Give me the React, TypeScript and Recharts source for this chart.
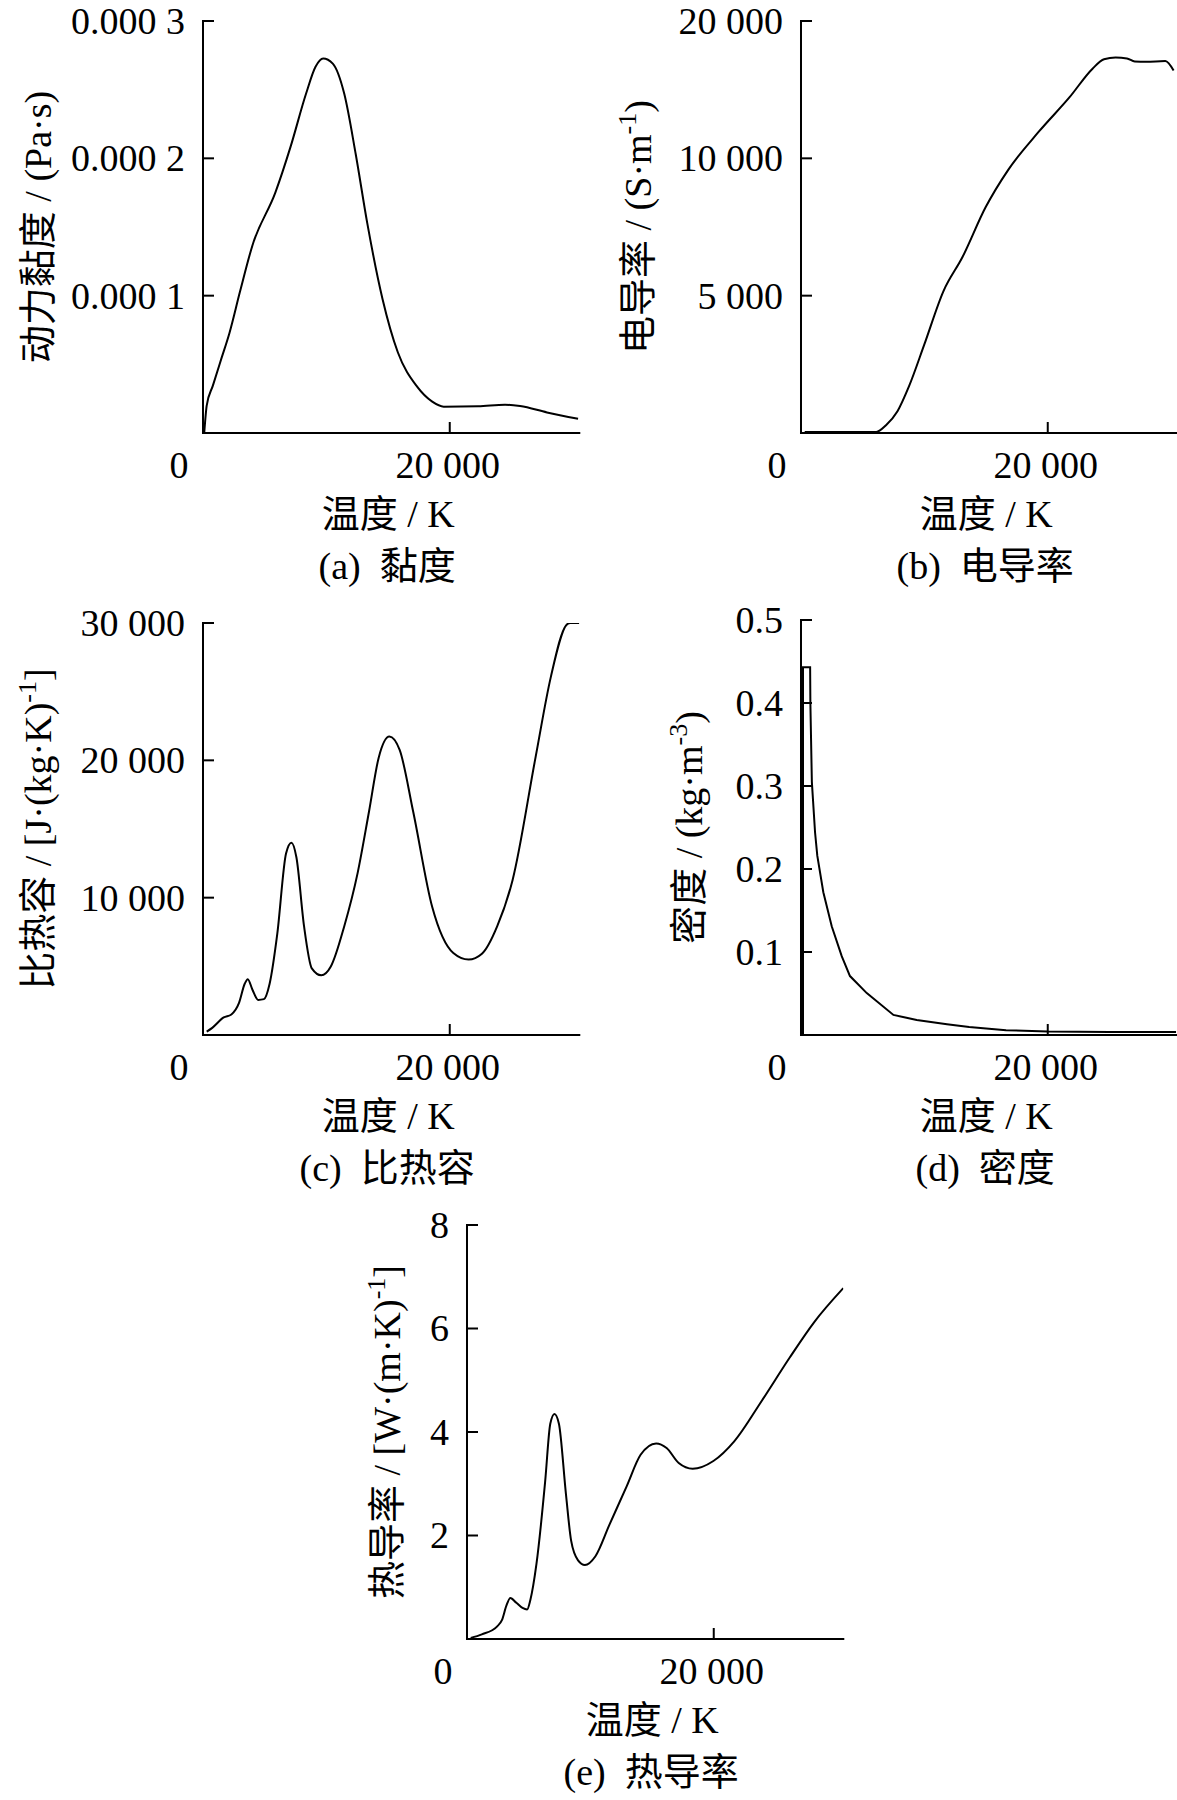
import React from 'react';
import { LineChart, Line, XAxis, YAxis } from 'recharts';

const FONT = "'Liberation Serif', 'Times New Roman', 'Noto Sans CJK SC', serif";
const FS = 38;

// shared temperature axis
const xTicks = [0, 20000];
const xTickLabels = ['0', '20 000'];
const xMax = 30500;
const xTitle = '温度 / K';

// (a) viscosity
const tempA = [100, 300, 800, 1500, 2140, 3000, 4000, 5870, 7100, 8350, 9120, 9740, 10520, 11450, 12380, 13310, 14550, 15790, 17340, 18580, 19510, 22300, 24480, 25700, 27880, 30400];
const viscA = [0, 2.0e-5, 3.45e-5, 5.45e-5, 7.27e-5, 1.03e-4, 1.364e-4, 1.752e-4, 2.085e-4, 2.47e-4, 2.667e-4, 2.727e-4, 2.69e-4, 2.47e-4, 2.03e-4, 1.53e-4, 9.76e-5, 5.88e-5, 3.39e-5, 2.28e-5, 1.92e-5, 1.95e-5, 2.06e-5, 1.96e-5, 1.5e-5, 1.04e-5];
const yTicksA = [0.0001, 0.0002, 0.0003];
const yLabelsA = ['0.000 1', '0.000 2', '0.000 3'];

// (b) electrical conductivity
const tempB = [300, 6100, 6890, 7820, 8750, 9990, 11540, 13090, 14950, 16810, 19290, 21770, 23630, 24560, 25500, 26420, 27050, 27980, 29530, 30200];
const condB = [40, 40, 283, 793, 1696, 3217, 5159, 6405, 8207, 9591, 10978, 12225, 13264, 13609, 13667, 13638, 13526, 13514, 13543, 13196];
const yTicksB = [5000, 10000, 15000];
const yLabelsB = ['5 000', '10 000', '20 000'];

// (c) specific heat
const tempC = [300, 750, 1680, 2300, 2920, 3380, 3630, 4000, 4470, 4940, 5400, 6020, 6730, 7170, 7570, 8190, 8820, 9590, 10360, 11450, 12540, 13460, 14240, 15110, 15940, 17030, 18580, 20290, 21530, 22610, 23850, 25090, 26950, 28190, 29430, 29750, 30500];
const cpC = [250, 520, 1277, 1496, 2336, 3730, 4066, 3314, 2555, 2613, 3730, 7358, 13219, 14000, 12940, 7920, 4847, 4343, 4985, 7920, 11825, 16292, 20197, 21737, 20759, 16292, 9314, 5963, 5489, 5912, 7920, 11270, 20197, 26058, 29832, 30000, 30000];
const yTicksC = [10000, 20000, 30000];
const yLabelsC = ['10 000', '20 000', '30 000'];

// (d) density
const tempD = [160, 160, 740, 760, 880, 1140, 1320, 1810, 2490, 3300, 3970, 5330, 7490, 9380, 11830, 13630, 16620, 20000, 25000, 30400];
const rhoD = [0, 0.443, 0.443, 0.4, 0.305, 0.244, 0.216, 0.172, 0.131, 0.095, 0.071, 0.0505, 0.0242, 0.0182, 0.013, 0.0095, 0.0058, 0.0042, 0.0036, 0.0035];
const yTicksD = [0.1, 0.2, 0.3, 0.4, 0.5];
const yLabelsD = ['0.1', '0.2', '0.3', '0.4', '0.5'];

// (e) thermal conductivity
const tempE = [300, 1200, 2430, 2840, 3200, 3510, 4000, 4500, 4870, 5130, 5630, 6330, 6750, 7090, 7450, 8020, 8440, 9000, 9560, 10410, 11530, 12940, 14070, 15330, 16180, 17160, 18290, 19970, 21660, 23910, 26160, 28130, 30500];
const kE = [0.02, 0.09, 0.24, 0.37, 0.65, 0.79, 0.7, 0.6, 0.57, 0.75, 1.45, 3.03, 4.16, 4.35, 4.16, 2.8, 1.9, 1.52, 1.43, 1.6, 2.2, 2.95, 3.56, 3.78, 3.69, 3.4, 3.29, 3.44, 3.82, 4.61, 5.44, 6.12, 6.78];
const yTicksE = [2, 4, 6, 8];
const yLabelsE = ['2', '4', '6', '8'];

const txt = { fontFamily: FONT, fontSize: FS, fill: '#000' } as const;

const XTick = (p: any) => {
  const { x, y, payload } = p;
  const i = xTicks.indexOf(payload.value);
  if (payload.value === 0) {
    return (
      <text x={x - 24} y={y + 45} textAnchor="middle" {...txt}>{xTickLabels[i]}</text>
    );
  }
  return (
    <g>
      <line x1={x} y1={y} x2={x} y2={y - 11} stroke="#000" strokeWidth={2} />
      <text x={x - 2} y={y + 45} textAnchor="middle" {...txt}>{xTickLabels[i]}</text>
    </g>
  );
};

const YTick = (p: any) => {
  const { x, y, payload, vals, labels } = p;
  const i = vals.findIndex((v: number) => Math.abs(v - payload.value) < 1e-9);
  return (
    <g>
      <line x1={x} y1={y} x2={x + 11} y2={y} stroke="#000" strokeWidth={2} />
      <text x={x - 18} y={y + 13} textAnchor="end" {...txt}>{i >= 0 ? labels[i] : ''}</text>
    </g>
  );
};

type PanelProps = {
  L: number; T: number; R: number; B: number;
  temps: number[]; values: number[];
  yMax: number; yTicks: number[]; yLabels: string[];
  curve: 'monotone' | 'linear';
};

function Panel({ L, T, R, B, temps, values, yMax, yTicks, yLabels, curve }: PanelProps) {
  const data = temps.map((t, i) => ({ t, v: values[i] }));
  const left = L - 200;
  const top = T - 22;
  const w = 200 + (R - L) + 4;
  const h = 22 + (B - T) + 62;
  const axisLine = { stroke: '#000', strokeWidth: 2, strokeLinecap: 'square' as const };
  return (
    <div style={{ position: 'absolute', left, top, width: w, height: h }}>
      <LineChart width={w} height={h} data={data} margin={{ top: 22, right: 4, bottom: 0, left: 0 }}>
        <XAxis
          dataKey="t"
          type="number"
          domain={[0, xMax]}
          ticks={xTicks}
          interval={0}
          height={62}
          tickSize={0}
          tickMargin={0}
          tickLine={false}
          axisLine={axisLine}
          allowDataOverflow
          tick={(p: any) => <XTick {...p} />}
        />
        <YAxis
          type="number"
          domain={[0, yMax]}
          ticks={yTicks}
          interval={0}
          width={200}
          tickSize={0}
          tickMargin={0}
          tickLine={false}
          axisLine={axisLine}
          allowDataOverflow
          tick={(p: any) => <YTick {...p} vals={yTicks} labels={yLabels} />}
        />
        <Line
          type={curve}
          dataKey="v"
          stroke="#000"
          strokeWidth={2}
          dot={false}
          activeDot={false}
          isAnimationActive={false}
        />
      </LineChart>
    </div>
  );
}

const panels = [
  { key: 'a', L: 203, T: 21, R: 579.3, B: 433, temps: tempA, values: viscA, yMax: 0.0003, yTicks: yTicksA, yLabels: yLabelsA, curve: 'monotone' as const },
  { key: 'b', L: 801, T: 21, R: 1177.3, B: 433, temps: tempB, values: condB, yMax: 15000, yTicks: yTicksB, yLabels: yLabelsB, curve: 'monotone' as const },
  { key: 'c', L: 203, T: 623, R: 579.3, B: 1035, temps: tempC, values: cpC, yMax: 30000, yTicks: yTicksC, yLabels: yLabelsC, curve: 'monotone' as const },
  { key: 'd', L: 801, T: 620, R: 1177.3, B: 1035, temps: tempD, values: rhoD, yMax: 0.5, yTicks: yTicksD, yLabels: yLabelsD, curve: 'linear' as const },
  { key: 'e', L: 467, T: 1225, R: 843.3, B: 1639, temps: tempE, values: kE, yMax: 8, yTicks: yTicksE, yLabels: yLabelsE, curve: 'monotone' as const },
];

const captions = ['(a)\u00A0\u00A0黏度', '(b)\u00A0\u00A0电导率', '(c)\u00A0\u00A0比热容', '(d)\u00A0\u00A0密度', '(e)\u00A0\u00A0热导率'];

// y-axis titles: [main text, superscript, closing]
const yTitles: [string, string, string][] = [
  ['动力黏度 / (Pa·s)', '', ''],
  ['电导率 / (S·m', '-1', ')'],
  ['比热容 / [J·(kg·K)', '-1', ']'],
  ['密度 / (kg·m', '-3', ')'],
  ['热导率 / [W·(m·K)', '-1', ']'],
];
const yTitleX = [51, 651, 51, 702, 400];

export default function App() {
  return (
    <div style={{ position: 'absolute', left: 0, top: 0, width: 1177, height: 1800, overflow: 'hidden', background: '#fff' }}>
      {panels.map((p) => (
        <Panel key={p.key} L={p.L} T={p.T} R={p.R} B={p.B} temps={p.temps} values={p.values} yMax={p.yMax} yTicks={p.yTicks} yLabels={p.yLabels} curve={p.curve} />
      ))}
      <svg width={1177} height={1800} style={{ position: 'absolute', left: 0, top: 0, pointerEvents: 'none' }}>
        {panels.map((p, i) => {
          const cx = (p.L + p.R) / 2;
          const cy = (p.T + p.B) / 2;
          const [main, sup, close] = yTitles[i];
          return (
            <g key={p.key}>
              <text x={cx - 3} y={p.B + 94} textAnchor="middle" {...txt}>{xTitle}</text>
              <text x={cx - 4} y={p.B + 146} textAnchor="middle" {...txt}>{captions[i]}</text>
              <text transform={`translate(${yTitleX[i]},${cy}) rotate(-90)`} textAnchor="middle" {...txt}>
                {main}
                {sup ? <tspan fontSize={26} dy={-15}>{sup}</tspan> : null}
                {close ? <tspan fontSize={FS} dy={15}>{close}</tspan> : null}
              </text>
            </g>
          );
        })}
      </svg>
    </div>
  );
}
